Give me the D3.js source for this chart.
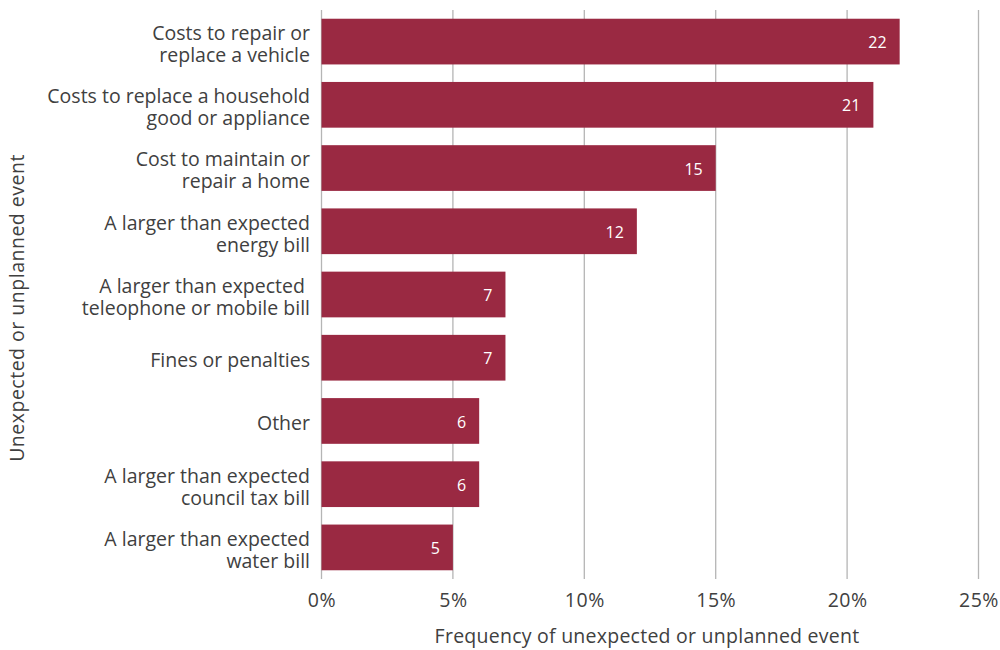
<!DOCTYPE html>
<html>
<head>
<meta charset="utf-8">
<script src="https://cdn.jsdelivr.net/npm/d3@7"></script>
<style>
  body { margin: 0; background: #fff; }
  svg text { font-family: "Open Sans", "Noto Sans", sans-serif; }
</style>
</head>
<body>
<svg id="chart" width="1000" height="650"></svg>
<script>
// Event categories (each entry is the list of label lines)
const categories = [
  ["Costs to repair or", "replace a vehicle"],
  ["Costs to replace a household", "good or appliance"],
  ["Cost to maintain or", "repair a home"],
  ["A larger than expected", "energy bill"],
  ["A larger than expected ", "teleophone or mobile bill"],
  ["Fines or penalties"],
  ["Other"],
  ["A larger than expected", "council tax bill"],
  ["A larger than expected", "water bill"]
];
// Frequency in percent
const values = [22, 21, 15, 12, 7, 7, 6, 6, 5];
const xTicks = [0, 5, 10, 15, 20, 25];
const xTitle = "Frequency of unexpected or unplanned event";
const yTitle = "Unexpected or unplanned event";

const svg = d3.select("#chart");
const plotLeft = 321.5, plotRight = 978.5, plotTop = 10, plotBottom = 579;
const barColor = "#9a2942";
const textColor = "#404040";
const labelSize = 19.5;

const x = d3.scaleLinear().domain([0, 25]).range([plotLeft, plotRight]);
const y = d3.scaleBand()
  .domain(d3.range(categories.length))
  .range([plotTop, plotBottom])
  .paddingInner(0.277)
  .paddingOuter(0.138);

// vertical gridlines
svg.append("g")
  .selectAll("line")
  .data(xTicks)
  .join("line")
  .attr("x1", d => x(d)).attr("x2", d => x(d))
  .attr("y1", plotTop).attr("y2", plotBottom)
  .attr("stroke", "#b5b5b5")
  .attr("stroke-width", 1.3);

// bars
svg.append("g")
  .selectAll("rect")
  .data(values)
  .join("rect")
  .attr("x", x(0))
  .attr("y", (d, i) => y(i))
  .attr("width", d => x(d) - x(0))
  .attr("height", y.bandwidth())
  .attr("fill", barColor);

// value labels inside the bar ends
svg.append("g")
  .selectAll("text")
  .data(values)
  .join("text")
  .attr("x", d => x(d) - 13)
  .attr("y", (d, i) => y(i) + y.bandwidth() / 2 + 1)
  .attr("dy", "0.35em")
  .attr("text-anchor", "end")
  .attr("fill", "#fff")
  .attr("font-size", 16)
  .text(d => d);

// category labels
const lineH = 22;
const catG = svg.append("g");
categories.forEach((lines, i) => {
  const cy = y(i) + y.bandwidth() / 2 + 2.5;
  const t = catG.append("text")
    .attr("text-anchor", "end")
    .attr("fill", textColor)
    .attr("font-size", labelSize)
    .style("white-space", "pre");
  lines.forEach((ln, j) => {
    t.append("tspan")
      .attr("x", 310)
      .attr("y", cy + (j - (lines.length - 1) / 2) * lineH)
      .attr("dy", "0.35em")
      .text(ln);
  });
});

// x axis tick labels
const xAxis = d3.axisBottom(x)
  .tickValues(xTicks)
  .tickFormat(d => d + "%")
  .tickSize(0)
  .tickPadding(0);
const ax = svg.append("g")
  .attr("transform", `translate(0,${plotBottom + 14})`)
  .call(xAxis);
ax.select(".domain").remove();
ax.selectAll("text")
  .attr("fill", textColor)
  .attr("font-size", labelSize)
  .attr("letter-spacing", 0.5)
  .attr("font-family", "\"Open Sans\", \"Noto Sans\", sans-serif");

// axis titles
svg.append("text")
  .attr("x", 647)
  .attr("y", 643)
  .attr("text-anchor", "middle")
  .attr("fill", textColor)
  .attr("font-size", labelSize)
  .attr("letter-spacing", 0.25)
  .text(xTitle);

svg.append("text")
  .attr("transform", "translate(24,308) rotate(-90)")
  .attr("text-anchor", "middle")
  .attr("fill", textColor)
  .attr("font-size", labelSize)
  .attr("letter-spacing", 0.5)
  .text(yTitle);
</script>
</body>
</html>
